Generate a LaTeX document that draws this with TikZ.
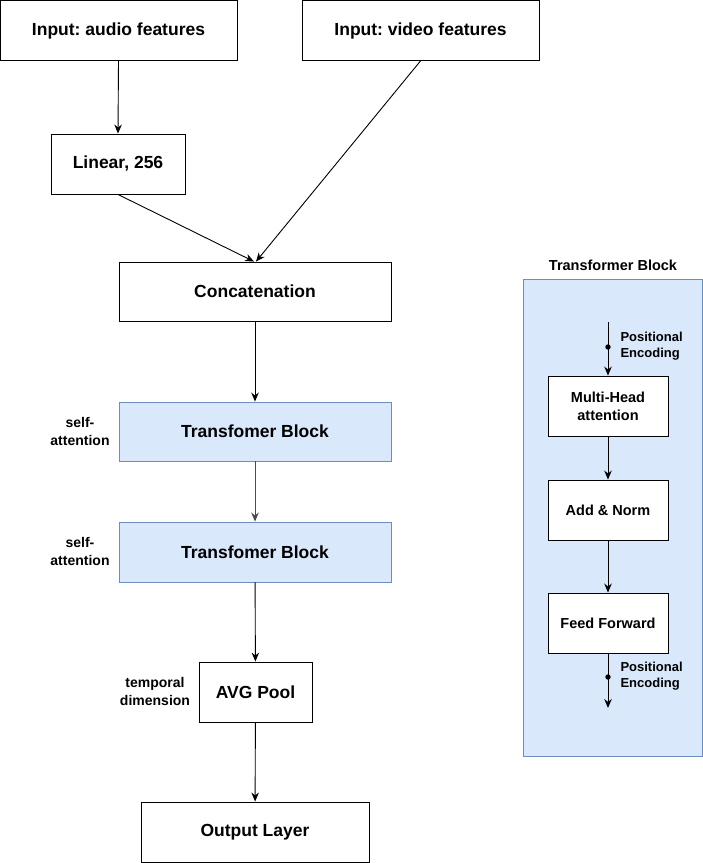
\documentclass[tikz,border=0pt]{standalone}
\usepackage{fontspec}
\setmainfont{Liberation Sans}
\frenchspacing
\usetikzlibrary{arrows.meta,positioning}
\definecolor{blockfill}{HTML}{DAE8FC}
\definecolor{blockline}{HTML}{6C8EBF}

\begin{document}
\begin{tikzpicture}[x=1pt,y=-1pt,
boxnode/.style={rectangle, draw=black, fill=white, line width=0.9pt, inner sep=0pt, align=center, font=\fontsize{17.5}{20}\selectfont\bfseries},
bluenode/.style={boxnode, fill=blockfill, draw=blockline},
smallbox/.style={boxnode, minimum width=120pt, minimum height=60pt, font=\fontsize{14.5}{18}\selectfont\bfseries},
sidelabel/.style={align=center, font=\fontsize{14}{18}\selectfont\bfseries},
pelabel/.style={align=left, anchor=west, font=\fontsize{13}{16}\selectfont\bfseries},
arr/.style={-{Stealth[length=9pt,width=7.5pt]}, line width=0.9pt},
]
\useasboundingbox (0,0) rectangle (703,863);

%Panel
\draw[fill=blockfill, draw=blockline, line width=0.9pt] (523,279) rectangle (702,756);
\node[font=\fontsize{14.5}{17}\selectfont\bfseries] (title) at (613,265) {Transformer Block};

%Nodes
\node[boxnode, minimum width=237pt, minimum height=60pt] (audio) at (118.5,30.5) {Input: audio features};
\node[boxnode, minimum width=237pt, minimum height=60pt] (video) at (420.5,30.5) {Input: video features};
\node[boxnode, minimum width=134pt, minimum height=60pt] (lin) at (118,164) {Linear, 256};
\node[boxnode, minimum width=272pt, minimum height=59pt] (concat) at (255,291.5) {Concatenation};
\node[bluenode, minimum width=272pt, minimum height=59pt] (tb1) at (255,431.5) {Transfomer Block};
\node[bluenode, minimum width=272pt, minimum height=60pt] (tb2) at (255,552) {Transfomer Block};
\node[boxnode, minimum width=113pt, minimum height=60pt] (pool) at (255.5,692) {AVG Pool};
\node[boxnode, minimum width=228pt, minimum height=60pt] (out) at (255,832) {Output Layer};

\node[sidelabel] (sa1) at (80,431) {self-\\attention};
\node[sidelabel] (sa2) at (80,551) {self-\\attention};
\node[sidelabel] (td) at (155,691) {temporal\\dimension};

\node[smallbox] (mha) at (608,406) {Multi-Head\\attention};
\node[smallbox] (addnorm) at (608,510) {Add \& Norm};
\node[smallbox] (ff) at (608,623) {Feed Forward};

\coordinate (pein) at (608,322);
\coordinate (peout) at (608,708);
\node[pelabel] (pe1) at (617,346) {Positional\\Encoding};
\node[pelabel] (pe2) at (617,676) {Positional\\Encoding};

%Lines
\draw[arr] (audio.south) -- (lin.north);
\draw[arr] (lin.south) -- ([xshift=-1pt]concat.north);
\draw[arr] (video.south) -- ([xshift=1pt]concat.north);
\draw[arr] (concat) -- (tb1);
\draw[arr, draw=black!70] (tb1) -- (tb2);
\draw[arr] (tb2) -- (pool);
\draw[arr] (pool) -- (out);

\draw[arr] (pein) -- (mha.north);
\fill (608,347) circle (2.7pt);
\draw[arr] (mha) -- (addnorm);
\draw[arr] (addnorm) -- (ff);
\draw[arr] (ff.south) -- (peout);
\fill (608,677) circle (2.7pt);

\end{tikzpicture}
\end{document}
